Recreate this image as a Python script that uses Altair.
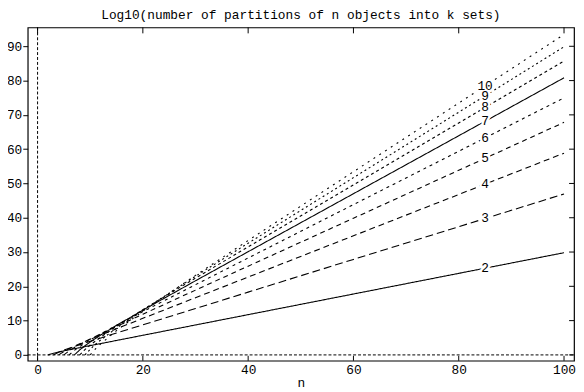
import altair as alt
import pandas as pd

title_text = "Log10(number of partitions of n objects into k sets)"
x_title = "n"

x_ticks = [0, 20, 40, 60, 80, 100]
y_ticks = [0, 10, 20, 30, 40, 50, 60, 70, 80, 90]

ks = [2, 3, 4, 5, 6, 7, 8, 9, 10]
label_n = 85
n_common = [20, 30, 40, 60, 80, 85, 100]

n_k2 = [2, 3, 4, 5, 7, 10, 15] + n_common
v_k2 = [0.0, 0.48, 0.85, 1.18, 1.80, 2.71, 4.21, 5.72, 8.73, 11.74, 17.76, 23.78, 25.29, 29.80]
n_k3 = [3, 4, 5, 6, 8, 10, 15] + n_common
v_k3 = [0.0, 0.78, 1.40, 1.95, 2.98, 3.97, 6.38, 8.76, 13.53, 18.31, 27.85, 37.39, 39.78, 46.93]
n_k4 = [4, 5, 6, 7, 8, 10, 12, 15] + n_common
v_k4 = [0.0, 1.00, 1.81, 2.54, 3.23, 4.53, 5.79, 7.63, 10.66, 16.68, 22.70, 34.74, 46.78, 49.80, 58.83]
n_k5 = [5, 6, 7, 8, 10, 12, 15] + n_common
v_k5 = [0.0, 1.18, 2.15, 3.02, 4.63, 6.14, 8.32, 11.87, 18.89, 25.88, 39.86, 53.84, 57.33, 67.82]
n_k6 = [6, 7, 8, 9, 10, 12, 15] + n_common
v_k6 = [0.0, 1.32, 2.42, 3.42, 4.36, 6.12, 8.62, 12.63, 20.48, 28.27, 43.83, 59.39, 63.29, 74.96]
n_k7 = [7, 8, 9, 10, 12, 15] + n_common
v_k7 = [0.0, 1.45, 2.66, 3.77, 5.80, 8.61, 13.05, 21.62, 30.10, 47.01, 63.91, 68.13, 80.81]
n_k8 = [8, 9, 10, 12, 15] + n_common
v_k8 = [0.0, 1.56, 2.88, 5.20, 8.34, 13.18, 22.41, 31.50, 49.58, 67.64, 72.16, 85.70]
n_k9 = [9, 10, 11, 12, 15] + n_common
v_k9 = [0.0, 1.65, 3.12, 4.35, 7.83, 13.08, 22.94, 32.58, 51.69, 70.78, 75.55, 89.86]
n_k10 = [10, 11, 12, 15] + n_common
v_k10 = [0.0, 1.74, 3.23, 7.10, 12.77, 23.20, 33.37, 53.43, 73.44, 78.44, 93.44]

series_n = [n_k2, n_k3, n_k4, n_k5, n_k6, n_k7, n_k8, n_k9, n_k10]
series_v = [v_k2, v_k3, v_k4, v_k5, v_k6, v_k7, v_k8, v_k9, v_k10]
dashes = [[1, 0], [8, 4], [6, 4], [5, 4], [3, 4], [1, 0], [3, 3], [2, 3], [2, 5]]

rows = []
for k, ns, vs in zip(ks, series_n, series_v):
    for n, v in zip(ns, vs):
        rows.append({"k": k, "n": n, "v": v, "lab": str(k)})
df = pd.DataFrame(rows)
lab_df = df[df["n"] == label_n]

W, H = 554, 338
FONT = "Liberation Mono"

xs = alt.Scale(domain=[-1.87, 101.9], nice=False, zero=False)
ys = alt.Scale(domain=[-1.7, 95.5], nice=False, zero=False)
x_axis = alt.Axis(values=x_ticks, title=x_title, ticks=False, domain=False, grid=False,
                  labelPadding=3, titlePadding=0, format="d", labelOverlap=False, labelFlush=False)
y_axis = alt.Axis(values=y_ticks, title=None, tickSize=5, domain=False, grid=False,
                  labelPadding=1, format="d", labelOverlap=False, labelFlush=False)


def X(f):
    return alt.X(f, scale=xs, axis=x_axis)


def Y(f):
    return alt.Y(f, scale=ys, axis=y_axis)


layers = []
layers.append(
    alt.Chart(pd.DataFrame({"x0": [0]})).mark_rule(color="black", strokeWidth=1, strokeDash=[3, 2]).encode(
        x=X("x0:Q"), y=alt.value(0), y2=alt.value(H))
)
layers.append(
    alt.Chart(pd.DataFrame({"y0": [0]})).mark_rule(color="black", strokeWidth=1, strokeDash=[3, 2]).encode(
        y=Y("y0:Q"), x=alt.value(0), x2=alt.value(W))
)

for k, dash in zip(ks, dashes):
    sub = df[df["k"] == k]
    layers.append(
        alt.Chart(sub).mark_line(color="black", strokeWidth=1.1, strokeDash=dash).encode(
            x=X("n:Q"), y=Y("v:Q"), order="n:Q")
    )

layers.append(
    alt.Chart(lab_df).mark_text(font=FONT, fontSize=13, color="white", stroke="white", strokeWidth=5,
                                align="center", baseline="middle").encode(
        x=X("n:Q"), y=Y("v:Q"), text="lab:N")
)
layers.append(
    alt.Chart(lab_df).mark_text(font=FONT, fontSize=13, color="black",
                                align="center", baseline="middle").encode(
        x=X("n:Q"), y=Y("v:Q"), text="lab:N")
)

xt = pd.DataFrame({"t": x_ticks})
yt = pd.DataFrame({"t": y_ticks})
layers.append(alt.Chart(xt).mark_rule(color="black", strokeWidth=1).encode(
    x=X("t:Q"), y=alt.value(H), y2=alt.value(H - 5)))
layers.append(alt.Chart(xt).mark_rule(color="black", strokeWidth=1).encode(
    x=X("t:Q"), y=alt.value(0), y2=alt.value(6)))
layers.append(alt.Chart(yt).mark_rule(color="black", strokeWidth=1).encode(
    y=Y("t:Q"), x=alt.value(W), x2=alt.value(W - 5)))

chart = alt.layer(*layers).properties(
    width=W, height=H,
    title=alt.TitleParams(title_text, font=FONT, fontSize=13, fontWeight="normal", color="black",
                          anchor="middle", offset=5),
    autosize=alt.AutoSizeParams(type="none"),
    padding={"left": 20, "top": 17, "right": 2, "bottom": 29},
).configure_view(stroke="black", strokeWidth=1.2).configure_axis(
    labelFont=FONT, labelFontSize=13, labelColor="black", titleFont=FONT, titleFontSize=13,
    titleColor="black", titleFontWeight="normal", tickColor="black", labelOverlap=False
)

chart.save("out.html", embed_options={"renderer": "svg", "actions": False})
